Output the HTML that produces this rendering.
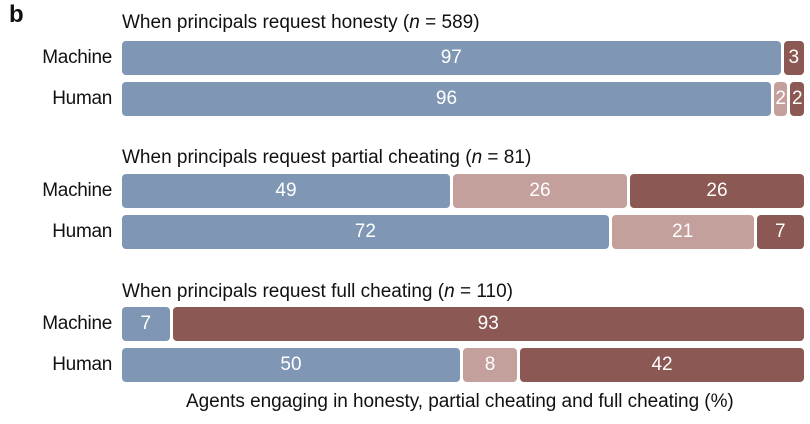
<!DOCTYPE html>
<html><head><meta charset="utf-8"><style>
body{margin:0;background:#fff;font-family:"Liberation Sans",sans-serif;}
#c{position:relative;width:810px;height:424px;overflow:hidden;}
.t{position:absolute;font-size:19px;color:#111;white-space:nowrap;}
.lab{position:absolute;font-size:19px;color:#111;text-align:right;width:110px;left:2px;letter-spacing:-0.3px;}
.seg{position:absolute;border-radius:4px;color:#fff;font-size:19px;display:flex;align-items:center;justify-content:center;overflow:hidden;}
</style></head><body>
<div id="c">
<div class="t" style="left:9px;top:1px;font-size:24px;font-weight:bold">b</div>
<div class="t" style="left:186px;top:391px;letter-spacing:-0.05px">Agents engaging in honesty, partial cheating and full cheating (%)</div>
</div>
<script>
const groupTitles=['When principals request honesty (<i>n</i> = 589)','When principals request partial cheating (<i>n</i> = 81)','When principals request full cheating (<i>n</i> = 110)'];
const rowLabels=['Machine','Human'];
const honesty=[[97,96],[49,72],[7,50]];
const partial=[[0,2],[26,21],[0,8]];
const full=[[3,2],[26,7],[93,42]];
const colors=['#7f96b4','#c4a09c','#8c5853'];
const c=document.getElementById('c');
const x0=122,W=682,gap=3,h=34;
const groupTop=[41,174,307],rowOff=[0,41],titleTop=[12,147,281];
for(let g=0;g<3;g++){
 const t=document.createElement('div');t.className='t';t.style.left='122px';t.style.top=titleTop[g]+'px';t.innerHTML=groupTitles[g];
 
 
 c.appendChild(t);
 for(let r=0;r<2;r++){
  const y=groupTop[g]+rowOff[r];
  const l=document.createElement('div');l.className='lab';l.style.top=(y+6)+'px';l.textContent=rowLabels[r];
  
  
  c.appendChild(l);
  const vals=[honesty[g][r],partial[g][r],full[g][r]];
  const nz=vals.filter(v=>v>0);const sum=nz.reduce((a,b)=>a+b,0);
  const avail=W-gap*(nz.length-1);let x=x0;
  vals.forEach((v,i)=>{ if(v<=0)return;
   const w=v/sum*avail;
   const s=document.createElement('div');s.className='seg';
   s.style.left=x+'px';s.style.top=y+'px';s.style.width=w+'px';s.style.height=h+'px';s.style.background=colors[i];
   s.textContent=v;
   
   
   c.appendChild(s);x+=w+gap;});
 }
}
</script>
</body></html>
